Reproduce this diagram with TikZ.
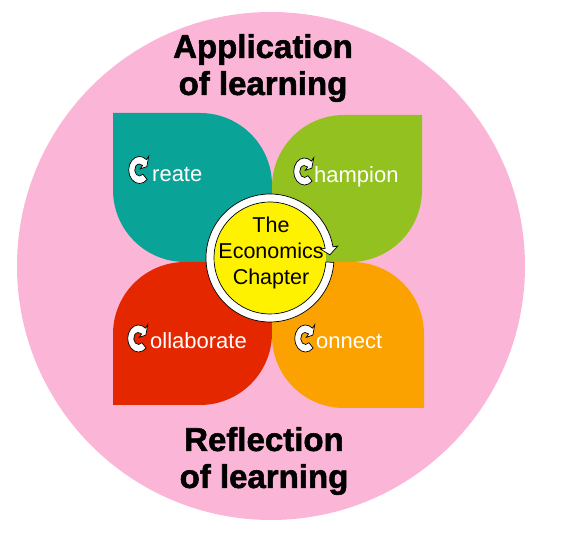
\documentclass[tikz,border=0pt]{standalone}
\usepackage{fontspec}
\setmainfont{Liberation Sans}
\newfontfamily\titlefont[FakeBold=1.6]{Liberation Sans Bold}
\usetikzlibrary{positioning}
\definecolor{bg}{HTML}{FBB6D7}
\definecolor{cr}{HTML}{0AA398}
\definecolor{ch}{HTML}{93C11F}
\definecolor{co}{HTML}{E52700}
\definecolor{cn}{HTML}{FBA100}

% ring with an arrow head: placement, inner r, outer r, head angle, tail angle, tip sweep
\newcommand\loopicon[6]{%
  \pgfmathsetmacro\lpgap{0.6*(#3-#2)}%
  \pgfmathsetmacro\lpmid{0.5*(#3+#2)}%
  \filldraw[loopline, #1]
    ({#5}:{#3}) arc[start angle=#5, end angle=#4-360, radius=#3]
    -- ({#4}:{#3+\lpgap}) -- ({#4-#6}:{\lpmid}) -- ({#4}:{#2-\lpgap}) -- ({#4}:{#2})
    arc[start angle=#4-360, end angle=#5, radius=#2] -- cycle;}

\begin{document}
\begin{tikzpicture}[
  x=1pt, y=1pt,
  title/.style={align=center, inner sep=0pt, font=\fontsize{33}{37}\titlefont},
  word/.style={anchor=base west, inner sep=0pt, text=white, font=\fontsize{22}{26}\selectfont},
  hub/.style={align=center, inner sep=0pt, font=\fontsize{21.5}{26}\selectfont},
  loopline/.style={fill=white, draw=black, line width=0.7pt, line join=miter},
]
\useasboundingbox (0,0) rectangle (566,535);

% ---------- background ----------
\fill[bg] (271,269) circle[radius=254];

% ---------- petals ----------
\fill[cr] (113,422) -- (200,422) arc[start angle=90, end angle=0, radius=72]
  -- (272,273) -- (185,273) arc[start angle=270, end angle=180, radius=72] -- cycle;
\fill[ch] (422,420) -- (422,345) arc[start angle=0, end angle=-90, radius=72]
  -- (272,273) -- (272,348) arc[start angle=180, end angle=90, radius=72] -- cycle;
\fill[co] (113,130) -- (113,201) arc[start angle=180, end angle=90, radius=72]
  -- (272,273) -- (272,202) arc[start angle=0, end angle=-90, radius=72] -- cycle;
\fill[cn] (424,127) -- (424,201) arc[start angle=0, end angle=90, radius=72]
  -- (272,273) -- (272,199) arc[start angle=180, end angle=270, radius=72] -- cycle;

% ---------- centre ----------
\fill[yellow] (270,277) circle[radius=56];
\loopicon{shift={(270,277)}}{56}{64}{10}{-4}{7}
\node[hub] (hub) at (271,282) {The\\Economics\\Chapter};

% ---------- titles ----------
\node[title] (apply) at (263,467) {Application\\of learning};
\node[title] (reflect) at (264,74) {Reflection\\of learning};

% ---------- petal labels ----------
\loopicon{shift={(139.5,365)}, xscale=0.8}{6}{13.5}{50}{-45}{30}
\node[word] (create) at (152,353) {reate};
\loopicon{shift={(304.5,363.5)}, xscale=0.8}{6}{13.5}{50}{-45}{30}
\node[word] (champion) at (314,352) {hampion};
\loopicon{shift={(138.5,196.5)}, xscale=0.8}{6}{13.5}{50}{-45}{30}
\node[word] (collab) at (150,186) {ollaborate};
\loopicon{shift={(305.5,196.5)}, xscale=0.8}{6}{13.5}{50}{-45}{30}
\node[word] (connect) at (316,186) {onnect};
\end{tikzpicture}
\end{document}
